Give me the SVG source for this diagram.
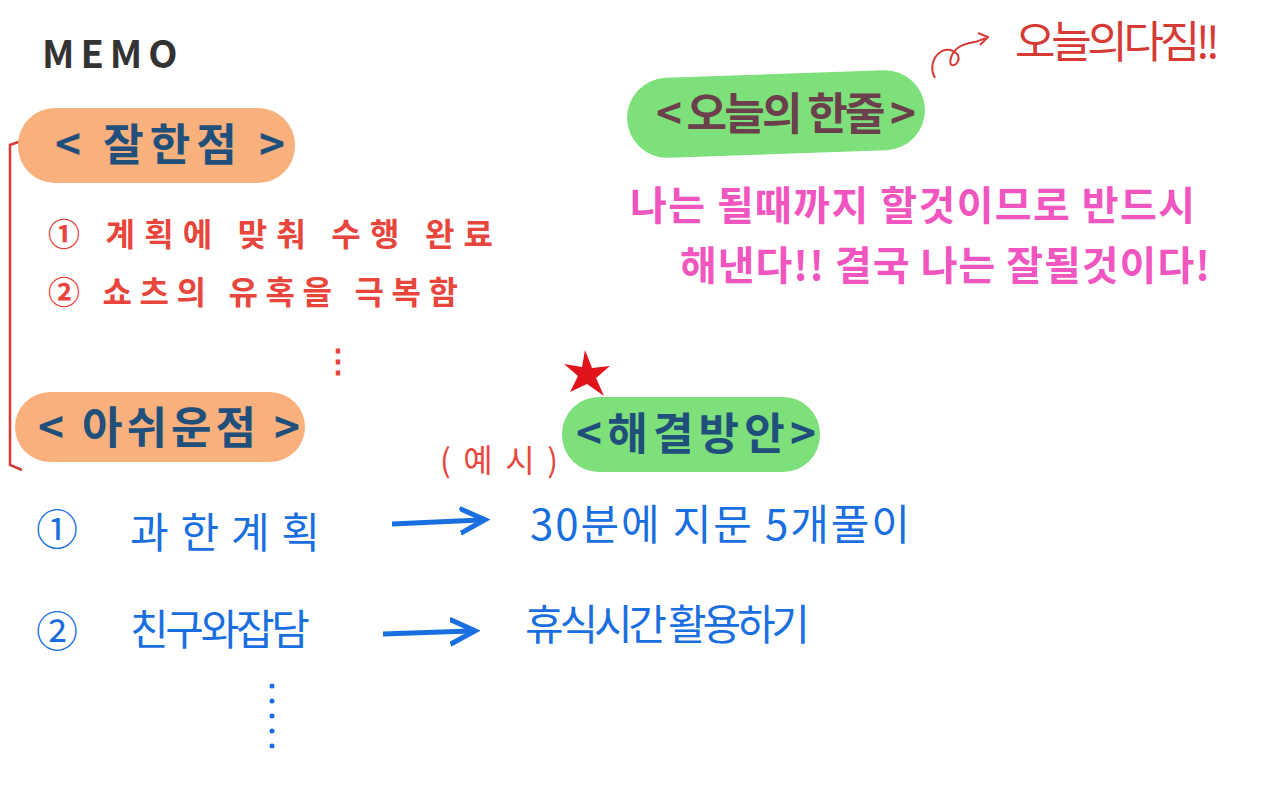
<svg xmlns="http://www.w3.org/2000/svg" width="1261" height="791" viewBox="0 0 1261 791">
<style>
.k{font-family:"Noto Sans CJK KR","Noto Sans",sans-serif}
.h{font-size:44px;fill:#1f4f7a;font-weight:bold}
.r{font-size:32px;fill:#e8463c;font-weight:bold}
.b{font-size:42px;fill:#1a6fe0}
.p{font-size:40px;fill:#f055c0;font-weight:bold}
</style>
<defs><marker id="ah" markerWidth="6" markerHeight="6" refX="4" refY="3" orient="auto" markerUnits="strokeWidth"><path d="M0,0.5 L5,3 L0,5.5" fill="none" stroke="#1a6fe0" stroke-width="1"/></marker></defs>
<rect width="1261" height="791" fill="#fff"/>
<text x="42" y="68" class="k" font-size="38" font-weight="bold" fill="#333" letter-spacing="6">MEMO</text>
<g id="bracket"><path d="M24,140 L10,145 L10,465 L22,470" fill="none" stroke="#d63a34" stroke-width="2.5"/></g>
<g id="good"><rect x="18" y="108" width="277" height="75" rx="37" fill="#f8b07c"/><text x="55" y="161" class="k h" textLength="230">&lt; 잘한점 &gt;</text></g>
<g id="good-items">
<text x="48" y="246" class="k r" textLength="445">①  계획에 맞춰 수행 완료</text>
<text x="48" y="304" class="k r" textLength="410">②   쇼츠의 유혹을 극복함</text>
<text x="322" y="372" class="k r">⋮</text>
</g>
<g id="bad"><rect x="15" y="392" width="290" height="70" rx="35" fill="#f8b07c"/><text x="38" y="444" class="k h" textLength="262">&lt; 아쉬운점 &gt;</text></g>
<g id="star"><path d="M585,350 L592,368 L610,366 L596,378 L604,396 L587,384 L570,392 L578,376 L564,364 L582,367 Z" fill="#e2141b"/></g>
<text x="440" y="472" class="k" font-size="32" fill="#e8463c" textLength="118">(예시)</text>
<g id="solution"><rect x="562" y="397" width="258" height="75" rx="37" fill="#7de07a"/><text x="576" y="450" class="k h" textLength="240">&lt;해결방안&gt;</text></g>
<g id="today"><rect x="627" y="74" width="298" height="80" rx="40" fill="#7de07a" transform="rotate(-2 776 114)"/><text x="656" y="130" class="k h" style="fill:#6b3f4b" textLength="260">&lt; 오늘의 한줄 &gt;</text></g>
<g id="today-text">
<text x="630" y="220" class="k p" textLength="565">나는   될때까지 할것이므로 반드시</text>
<text x="680" y="280" class="k p" textLength="530">해낸다!!  결국 나는 잘될것이다!</text>
</g>
<g id="resolve"><path d="M935,78 C925,60 945,40 958,55 C962,65 945,72 952,55 C960,40 975,45 985,38 M978,33 L988,37 L980,45" fill="none" stroke="#d63a34" stroke-width="2"/>
<text x="1015" y="58" class="k" font-size="44" fill="#d63a34" textLength="205">오늘의다짐!!</text></g>
<g id="connectors">
<line x1="392" y1="524" x2="480" y2="520" stroke="#1a6fe0" stroke-width="5" marker-end="url(#ah)"/>
<line x1="383" y1="634" x2="470" y2="631" stroke="#1a6fe0" stroke-width="5" marker-end="url(#ah)"/>
</g>
<g id="row1"><text x="36" y="545" class="k b">①</text><text x="130" y="548" class="k b" font-size="46" textLength="190">과한계획</text><text x="530" y="540" class="k b" textLength="380">30분에 지문 5개풀이</text></g>
<g id="row2"><text x="36" y="647" class="k b">②</text><text x="130" y="645" class="k b" textLength="180">친구와잡담</text><text x="525" y="640" class="k b" textLength="285">휴식시간 활용하기</text></g>
<g id="dots" fill="#1a6fe0"><circle cx="272" cy="686" r="2.5"/><circle cx="272" cy="701" r="2.5"/><circle cx="272" cy="716" r="2.5"/><circle cx="272" cy="731" r="2.5"/><circle cx="272" cy="746" r="2.5"/></g>
</svg>
